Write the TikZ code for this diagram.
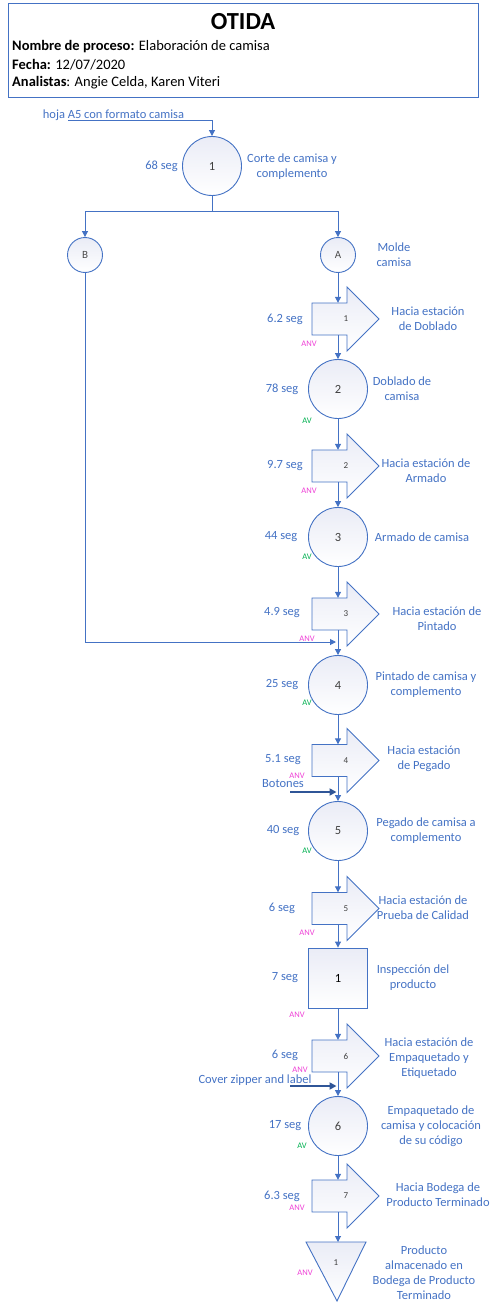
\documentclass[tikz,border=0pt]{standalone}
\usepackage{fontspec}
\setmainfont{Carlito}
\usetikzlibrary{arrows.meta,calc}
\definecolor{lblue}{RGB}{68,114,196}
\definecolor{dblue}{RGB}{47,85,151}
\definecolor{anvc}{RGB}{238,64,214}
\definecolor{avc}{RGB}{0,176,80}
\definecolor{shfill}{RGB}{234,236,246}
\tikzset{
  grad/.style={top color=shfill, bottom color=white},
  lbl/.style={font=\fontsize{12.5}{15}\selectfont, text=lblue, align=center, inner sep=0pt},
  hdrtxt/.style={font=\fontsize{14.5}{17}\selectfont, text=black, anchor=west, inner sep=0pt},
  opshape/.style={circle, draw=lblue, grad, line width=0.9pt, minimum size=59pt, inner sep=0pt,
    text=black!75, font=\fontsize{12.5}{15}\selectfont},
  connshape/.style={circle, draw=lblue, grad, line width=0.9pt, minimum size=35pt, inner sep=0pt,
    text=black!70, font=\fontsize{11}{13}\selectfont},
  inspshape/.style={rectangle, draw=lblue, grad, line width=0.9pt, minimum width=59pt, minimum height=60pt,
    inner sep=0pt, text=black, font=\fontsize{12.5}{15}\selectfont},
  tnum/.style={font=\fontsize{9}{11}\selectfont, text=black!75, inner sep=0pt},
  anv/.style={font=\fontsize{8.5}{10}\selectfont, text=anvc, inner sep=0pt},
  av/.style={font=\fontsize{8.5}{10}\selectfont, text=avc, inner sep=0pt},
  arr/.style={draw=lblue, line width=1pt, -{Triangle[length=6pt,width=6pt]}},
  line/.style={draw=lblue, line width=1pt},
  thickarr/.style={draw=dblue, line width=2.6pt, -{Triangle[length=7pt,width=7pt]}},
  tshape/.style={draw=lblue, grad, line width=0.9pt, line join=miter}
}
\newcommand\transp[3]{%
  \draw[tshape] (312,#2-16) -- (347,#2-16) -- (347,#2-32) -- (379,#2) -- (347,#2+32) -- (347,#2+16) -- (312,#2+16) -- cycle;
  \node[inner sep=0pt, minimum width=35pt, minimum height=32pt] (#1) at (329.5,#2) {};
  \node[tnum] at (346,#2) {#3};}
\begin{document}
\begin{tikzpicture}[x=1pt,y=-1pt]
\useasboundingbox (0,0) rectangle (493,1303);
% header
\node[draw=lblue, line width=0.8pt, minimum width=469.4pt, minimum height=93.4pt, inner sep=0pt, anchor=north west] (hdr) at (8.3,3.3) {};
\node[font=\fontsize{24.5}{28}\selectfont\bfseries, text=black, inner sep=0pt] (ttl) at (243,22) {OTIDA};
\node[hdrtxt] (h1) at (12,47) {\textbf{Nombre de proceso:} Elaboración de camisa};
\node[hdrtxt] (h2) at (12,65) {\textbf{Fecha:} 12/07/2020};
\node[hdrtxt] (h3) at (12,83) {\textbf{Analistas}: Angie Celda, Karen Viteri};

% input
\node[lbl] (inlbl) at (113.5,115) {hoja A5 con formato camisa};
\coordinate (inS) at (68,120.5);
% operation 1
\node[opshape] (c1) at (212,166) {1};
\node[lbl, anchor=east] (c1t) at (178,166) {68 seg};
\node[lbl] (c1d) at (292,167) {Corte de camisa y\\complemento};
\draw[arr] (inS) -| (c1);
% branch
\coordinate (br) at (212,211);
\node[connshape] (B) at (85,255) {B};
\node[connshape] (A) at (338,255) {A};
\node[lbl] (Ad) at (394,255) {Molde\\camisa};
\draw[line] (c1) -- (br);
\draw[arr] (br) -| (B);
\draw[arr] (br) -| (A);

% transport 1
\transp{t1}{319}{1}
\node[lbl] at (285,319) {6.2 seg};
\node[anv] at (309,344) {ANV};
\node[lbl] at (428,319) {Hacia estación\\de Doblado};
\draw[arr] (A) -- (A |- t1.north);

% op 2
\node[opshape] (c2) at (338,389) {2};
\node[lbl] at (282,389) {78 seg};
\node[av] at (307,421) {AV};
\node[lbl] at (402,389) {Doblado de\\camisa};
\draw[arr] (t1.south -| c2) -- (c2);

% transport 2
\transp{t2}{466}{2}
\node[lbl] at (285,466) {9.7 seg};
\node[anv] at (309,491) {ANV};
\node[lbl] at (426,471) {Hacia estación de\\Armado};
\draw[arr] (c2) -- (c2 |- t2.north);

% op 3
\node[opshape] (c3) at (338,537) {3};
\node[lbl] at (281,537) {44 seg};
\node[av] at (307,557) {AV};
\node[lbl] at (422,537) {Armado de camisa};
\draw[arr] (t2.south -| c3) -- (c3);

% transport 3
\transp{t3}{614}{3}
\node[lbl] at (282,613) {4.9 seg};
\node[anv] at (307,639) {ANV};
\node[lbl] at (437,619) {Hacia estación de\\Pintado};
\draw[arr] (c3) -- (c3 |- t3.north);

% op 4
\node[opshape] (c4) at (338,685) {4};
\node[lbl] at (282,685) {25 seg};
\node[av] at (307,703) {AV};
\node[lbl] at (426,684.5) {Pintado de camisa y\\complemento};
\draw[arr] (t3.south -| c4) -- (c4);
\coordinate (bEnd) at (336,642);
\draw[arr] (B) |- (bEnd);

% transport 4
\transp{t4}{760.5}{4}
\node[lbl] at (283,760) {5.1 seg};
\node[anv] at (297,776) {ANV};
\node[lbl] at (424,759) {Hacia estación\\de Pegado};
\draw[arr] (c4) -- (c4 |- t4.north);

% op 5
\node[opshape] (c5) at (338,831) {5};
\node[lbl] at (283,831) {40 seg};
\node[av] at (307,851) {AV};
\node[lbl] at (426,831) {Pegado de camisa a\\complemento};
\draw[arr] (t4.south -| c5) -- (c5);
\node[lbl] (bot) at (283,784) {Botones};
\coordinate (botS) at (290,792);
\coordinate (botE) at (336.5,792);
\draw[thickarr] (botS) -- (botE);

% transport 5
\transp{t5}{908.5}{5}
\node[lbl] at (282,908) {6 seg};
\node[anv] at (307,933) {ANV};
\node[lbl] at (423,908) {Hacia estación de\\Prueba de Calidad};
\draw[arr] (c5) -- (c5 |- t5.north);

% inspection
\node[inspshape] (i1) at (338,978) {1};
\node[lbl] at (285,978) {7 seg};
\node[anv] at (297,1015) {ANV};
\node[lbl] at (413,978) {Inspección del\\producto};
\draw[arr] (t5.south -| i1) -- (i1);

% transport 6
\transp{t6}{1056}{6}
\node[lbl] at (285,1055) {6 seg};
\node[anv] at (300,1070) {ANV};
\node[lbl] at (429,1058.5) {Hacia estación de\\Empaquetado y\\Etiquetado};
\draw[arr] (i1) -- (i1 |- t6.north);

% op 6
\node[opshape] (c6) at (338,1126) {6};
\node[lbl] at (285,1126) {17 seg};
\node[av] at (302,1146) {AV};
\node[lbl] at (431,1126) {Empaquetado de\\camisa y colocación\\de su código};
\draw[arr] (t6.south -| c6) -- (c6);
\node[lbl] (cov) at (255,1080) {Cover zipper and label};
\coordinate (covS) at (290,1086);
\coordinate (covE) at (336.5,1086);
\draw[thickarr] (covS) -- (covE);

% transport 7
\transp{t7}{1196}{7}
\node[lbl] at (282,1196) {6.3 seg};
\node[anv] at (297,1208) {ANV};
\node[lbl] at (438,1194.5) {Hacia Bodega de\\Producto Terminado};
\draw[arr] (c6) -- (c6 |- t7.north);

% storage
\draw[tshape] (306,1242) -- (366,1242) -- (337,1301) -- cycle;
\coordinate (s1) at (338,1242);
\node[tnum] at (336,1263) {1};
\node[anv] at (305,1273) {ANV};
\node[lbl] at (424,1273) {Producto\\almacenado en\\Bodega de Producto\\Terminado};
\draw[arr] (t7.south -| c6) -- (s1);
\end{tikzpicture}
\end{document}
